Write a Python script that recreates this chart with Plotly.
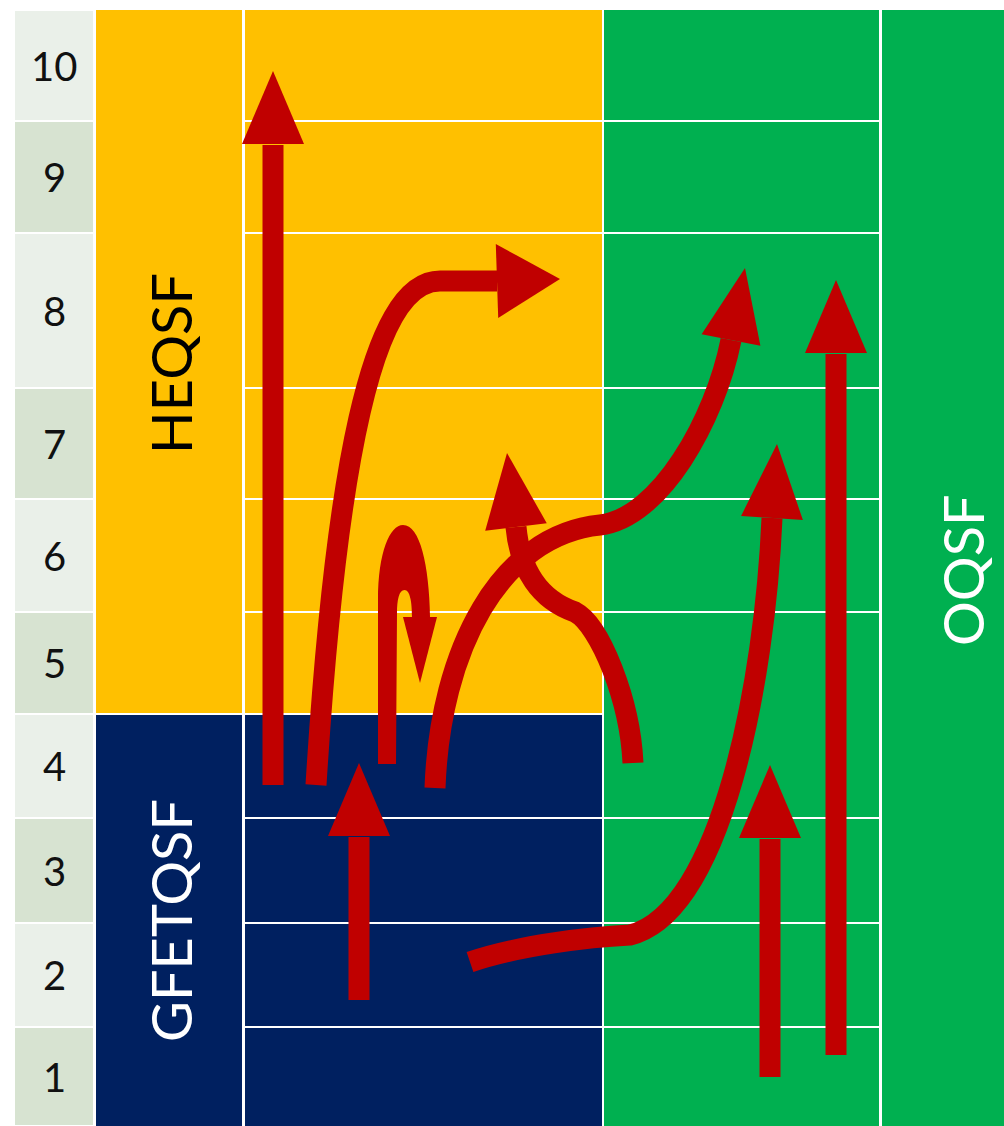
import math
import plotly.graph_objects as go

W, H = 1004, 1126

# ---- data -------------------------------------------------------------
levels = ["1", "2", "3", "4", "5", "6", "7", "8", "9", "10"]
# y of the lower edge of each level (bottom -> top), last value = top of level 10
level_edges = [1126, 1027, 923, 818, 714, 612, 499, 388, 233, 121, 10]
framework_names = ["HEQSF", "GFETQSF", "OQSF"]

# straight arrows: (x, y_start, y_tip)
straight_arrows = [
    (273, 785, 71),
    (359, 1000, 763),
    (770, 1077, 765),
    (836, 1055, 280),
]
# curved arrows: start point, cubic segments (c1, c2, end), tip of head, head half-width
curved_arrows = [
    ((316, 785), [((335, 480), (370, 281), (440, 281)), ((460, 281), (480, 281), (497, 281))], (560, 279), 37),
    ((435, 788), [((440, 650), (500, 535), (600, 525)), ((660, 518), (715, 420), (731, 340))], (745, 268), 30),
    ((633, 763), [((630, 700), (600, 625), (575, 612)), ((540, 600), (520, 570), (516, 527))], (507, 453), 31),
    ((470, 962), [((520, 945), (590, 937), (630, 935)), ((722, 912), (765, 680), (772, 518))], (777, 444), 31),
]
# loop arrow (outline of the hairpin) and its head
loop_outline = "M 378,764 L 378,600 C 378,552 390,525 403,525 C 420,525 429,565 430,617 " \
               "L 412,617 C 412,602 410,590 404.5,590 C 399,590 397,600 397,613 L 396,764 Z"
loop_head = ((420, 617), (420, 683), 17)

# ---- colours -----------------------------------------------------------
YELLOW = "#FFC000"
NAVY = "#002060"
GREEN = "#00B050"
RED = "#C00000"
LIGHT = "#EAF0E9"
DARK = "#D7E3D1"

shapes = []


def rect(x0, y0, x1, y1, color):
    shapes.append(dict(type="rect", xref="x", yref="y", x0=x0, x1=x1, y0=y0, y1=y1,
                       fillcolor=color, line=dict(width=0), layer="below"))


# level label cells
for i, lv in enumerate(levels):
    ybot, ytop = level_edges[i], level_edges[i + 1]
    rect(15, ytop + 1, 93, ybot - 1, DARK if i % 2 == 0 else LIGHT)

split = level_edges[4]  # between level 4 and 5
# framework label column
rect(96, level_edges[-1], 242, split - 1, YELLOW)
rect(96, split + 1, 242, H, NAVY)
# middle column
rect(245, level_edges[-1], 602, split - 1, YELLOW)
rect(245, split + 1, 602, H, NAVY)
# green columns
rect(604, level_edges[-1], 879, H, GREEN)
rect(882, level_edges[-1], W, H, GREEN)
# white row lines
for i, e in enumerate(level_edges[1:-1]):
    if i + 1 == 4:
        continue
    shapes.append(dict(type="line", xref="x", yref="y", x0=245, x1=879, y0=e, y1=e,
                       line=dict(color="white", width=2), layer="below"))


def head_path(base, tip, hw):
    dx, dy = tip[0] - base[0], tip[1] - base[1]
    L = math.hypot(dx, dy)
    nx, ny = -dy / L, dx / L
    p1 = (base[0] + nx * hw, base[1] + ny * hw)
    p2 = (base[0] - nx * hw, base[1] - ny * hw)
    return f"M {p1[0]:.1f},{p1[1]:.1f} L {tip[0]},{tip[1]} L {p2[0]:.1f},{p2[1]:.1f} Z"


def add_head(base, tip, hw):
    shapes.append(dict(type="path", xref="x", yref="y", path=head_path(base, tip, hw),
                       fillcolor=RED, line=dict(width=0)))


# straight arrows
for x, y0, yt in straight_arrows:
    base = (x, yt + 73)
    shapes.append(dict(type="line", xref="x", yref="y", x0=x, x1=x, y0=y0, y1=base[1] + 1,
                       line=dict(color=RED, width=21)))
    add_head(base, (x, yt), 31)

# curved arrows
for start, segs, tip, hw in curved_arrows:
    p = f"M {start[0]},{start[1]}"
    for c1, c2, e in segs:
        p += f" C {c1[0]},{c1[1]} {c2[0]},{c2[1]} {e[0]},{e[1]}"
    shapes.append(dict(type="path", xref="x", yref="y", path=p,
                       fillcolor="rgba(0,0,0,0)", line=dict(color=RED, width=21)))
    add_head(segs[-1][2], tip, hw)

# loop arrow
shapes.append(dict(type="path", xref="x", yref="y", path=loop_outline,
                   fillcolor=RED, line=dict(width=0)))
add_head(*loop_head)

# ---- text --------------------------------------------------------------
annotations = []
for i, lv in enumerate(levels):
    yc = (level_edges[i] + level_edges[i + 1]) / 2
    annotations.append(dict(x=54, y=yc, xref="x", yref="y", text=lv, showarrow=False,
                            font=dict(family="Lato, 'Open Sans', sans-serif", size=40, color="#111111"),
                            xanchor="center", yanchor="middle"))

label_pos = [(170, 364, "#000000"), (170, 921, "#FFFFFF"), (962, 570, "#FFFFFF")]
for name, (x, y, c) in zip(framework_names, label_pos):
    annotations.append(dict(x=x, y=y, xref="x", yref="y", text=name, showarrow=False, textangle=-90,
                            font=dict(family="Lato, 'Open Sans', sans-serif", size=56, color=c),
                            xanchor="center", yanchor="middle"))

fig = go.Figure()
fig.add_trace(go.Scatter(x=[0, W], y=[0, H], mode="markers", marker=dict(opacity=0),
                         hoverinfo="skip", showlegend=False))
fig.update_layout(
    width=W, height=H,
    margin=dict(l=0, r=0, t=0, b=0),
    paper_bgcolor="white", plot_bgcolor="white",
    xaxis=dict(range=[0, W], visible=False, fixedrange=True),
    yaxis=dict(range=[H, 0], visible=False, fixedrange=True),
    shapes=shapes, annotations=annotations,
    showlegend=False,
)
fig.write_html("out.html", config={"displayModeBar": False},
               post_script="document.body.style.margin='0';document.body.style.overflow='hidden';")
